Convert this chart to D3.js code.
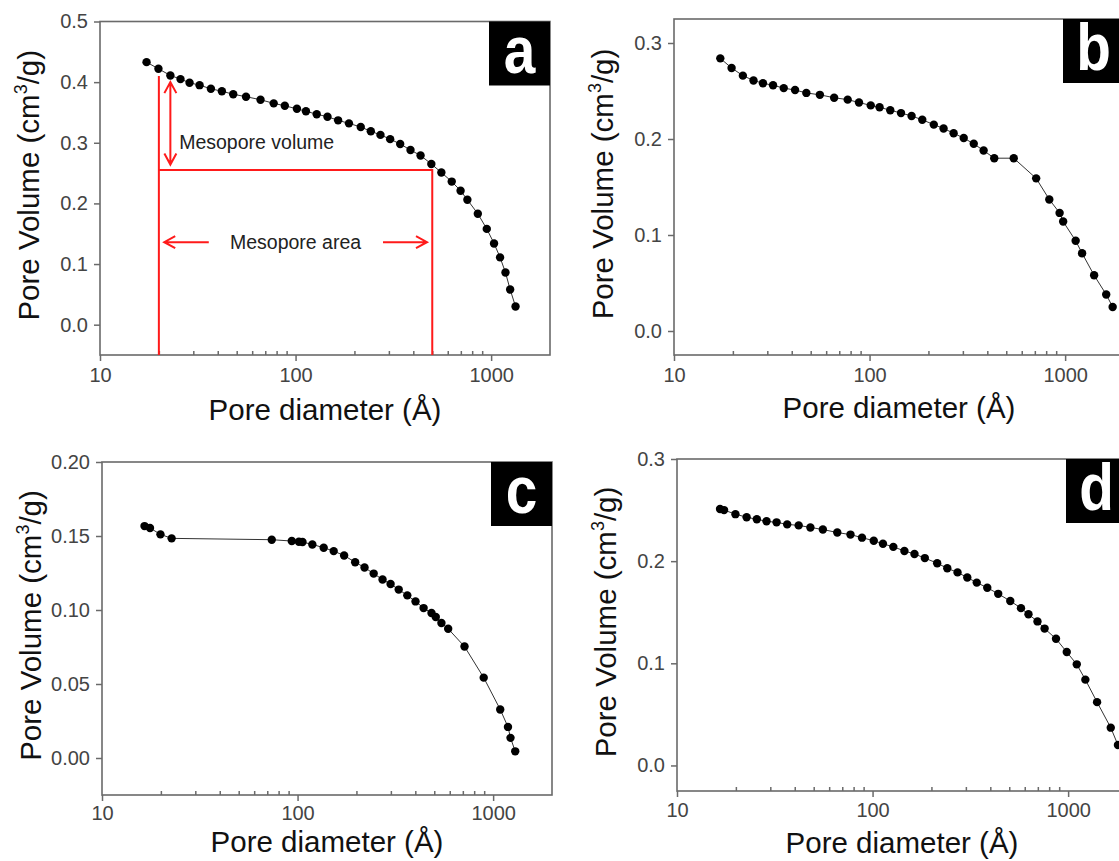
<!DOCTYPE html>
<html>
<head>
<meta charset="utf-8">
<script src="https://cdn.jsdelivr.net/npm/d3@7"></script>
<style>
  body { margin: 0; background: #fff; }
  svg { display: block; font-family: Arial, "Liberation Sans", sans-serif; }
</style>
</head>
<body>
<svg id="fig" width="1119" height="861"></svg>
<script>
// pore diameter (Å) and cumulative pore volume (cm3/g)
const aDiam = [17.3, 19.9, 22.9, 25.8, 28.7, 32.3, 36.9, 42, 48, 55.8, 66.2, 77.3, 88.1, 101.6, 113, 128.3, 145.6, 165, 187.5, 215.4, 242.5, 271.7, 304.6, 342.8, 387, 435.7, 494.6, 556.5, 628.8, 698, 756, 855, 950, 1035, 1111, 1184, 1251, 1333];
const aVol  = [0.433, 0.422, 0.411, 0.405, 0.399, 0.395, 0.389, 0.385, 0.380, 0.376, 0.371, 0.365, 0.361, 0.356, 0.352, 0.347, 0.343, 0.337, 0.332, 0.326, 0.319, 0.313, 0.306, 0.298, 0.288, 0.279, 0.265, 0.251, 0.236, 0.221, 0.206, 0.183, 0.158, 0.134, 0.111, 0.086, 0.058, 0.030];

const bDiam = [17.25, 19.7, 22.5, 25.5, 28.5, 32.1, 36.4, 41.6, 47.5, 55.7, 65.9, 77.3, 88.3, 101.4, 112.5, 127.6, 144.8, 164, 186, 213, 239, 269, 303, 341, 383, 434, 546, 711, 830, 937, 977, 1132, 1221, 1407, 1622, 1750];
const bVol  = [0.284, 0.274, 0.266, 0.261, 0.258, 0.256, 0.253, 0.251, 0.248, 0.246, 0.243, 0.241, 0.238, 0.235, 0.233, 0.230, 0.227, 0.224, 0.220, 0.215, 0.211, 0.206, 0.201, 0.195, 0.188, 0.180, 0.180, 0.159, 0.137, 0.123, 0.114, 0.094, 0.081, 0.058, 0.038, 0.025];

const cDiam = [16.5, 17.6, 19.9, 22.7, 73.8, 93.4, 101.6, 106, 119, 136, 153, 173, 197, 220, 245, 272, 299, 329, 364, 401, 441, 484, 509, 544, 589, 714, 895, 1087, 1191, 1227, 1297];
const cVol  = [0.1567, 0.1554, 0.1511, 0.1484, 0.1475, 0.1466, 0.1461, 0.1459, 0.1443, 0.1421, 0.1398, 0.1368, 0.1323, 0.1287, 0.1246, 0.1206, 0.1176, 0.1138, 0.1099, 0.1058, 0.1013, 0.0980, 0.0953, 0.0912, 0.0873, 0.0753, 0.0543, 0.0328, 0.0210, 0.0136, 0.0045];

const dDiam = [16.6, 17.4, 19.9, 22.7, 25.6, 28.7, 32.3, 36.6, 41.9, 48.1, 55.7, 66, 77.1, 88.3, 101.4, 113, 127.7, 145.5, 163.8, 185, 214, 241, 272, 305, 341, 386, 439, 506, 574, 627, 697, 758, 867, 984, 1107, 1225, 1406, 1652, 1798];
const dVol  = [0.251, 0.250, 0.246, 0.243, 0.241, 0.239, 0.238, 0.236, 0.235, 0.233, 0.231, 0.228, 0.226, 0.223, 0.220, 0.217, 0.214, 0.210, 0.207, 0.203, 0.198, 0.193, 0.189, 0.184, 0.179, 0.174, 0.168, 0.161, 0.154, 0.148, 0.141, 0.134, 0.124, 0.111, 0.099, 0.084, 0.062, 0.037, 0.020];

// axis ticks
const xMajor = [10, 100, 1000];
const xMinor = [20, 30, 40, 50, 60, 70, 80, 90, 200, 300, 400, 500, 600, 700, 800, 900];
const aTicks = [0.0, 0.1, 0.2, 0.3, 0.4, 0.5];
const bTicks = [0.0, 0.1, 0.2, 0.3];
const cTicks = [0.00, 0.05, 0.10, 0.15, 0.20];
const dTicks = [0.0, 0.1, 0.2, 0.3];

// mesopore markers in panel a
const mesoBounds = [20, 500];     // Å
const mesoLevel = 0.255;          // cm3/g
const mesoTop = 0.41;

const svg = d3.select("#fig");

const panels = [
  { label: "a", diam: aDiam, vol: aVol, ticks: aTicks, fmt: ".1f", yDomain: [-0.05, 0.5],
    left: 100, top: 21.5, width: 450, height: 333.5, xTitleY: 420, pad: 7 },
  { label: "b", diam: bDiam, vol: bVol, ticks: bTicks, fmt: ".1f", yDomain: [-0.025, 0.325],
    left: 674, top: 19, width: 450, height: 336, xTitleY: 418, pad: 7 },
  { label: "c", diam: cDiam, vol: cVol, ticks: cTicks, fmt: ".2f", yDomain: [-0.025, 0.2],
    left: 102, top: 462, width: 450, height: 333, xTitleY: 852, pad: 5 },
  { label: "d", diam: dDiam, vol: dVol, ticks: dTicks, fmt: ".1f", yDomain: [-0.025, 0.3],
    left: 677, top: 459, width: 450, height: 332, xTitleY: 853, pad: 6 }
];

panels.forEach(p => {
  const x = d3.scaleLog().domain([10, 2000]).range([p.left, p.left + p.width]);
  const y = d3.scaleLinear().domain(p.yDomain).range([p.top + p.height, p.top]);
  const g = svg.append("g");
  const bottom = p.top + p.height;

  // frame
  g.append("rect")
    .attr("x", p.left).attr("y", p.top)
    .attr("width", p.width).attr("height", p.height)
    .attr("fill", "none").attr("stroke", "#6a6a6a").attr("stroke-width", 1.6);

  // x axis: major ticks outward, minor ticks inward
  const xAx = g.append("g").attr("transform", `translate(0,${bottom})`)
    .call(d3.axisBottom(x).tickValues(xMajor).tickFormat(d3.format("d")).tickSize(6).tickPadding(p.pad));
  const xMin = g.append("g").attr("transform", `translate(0,${bottom})`)
    .call(d3.axisBottom(x).tickValues(xMinor).tickFormat("").tickSize(-4));

  // y axis
  const yAx = g.append("g").attr("transform", `translate(${p.left},0)`)
    .call(d3.axisLeft(y).tickValues(p.ticks).tickFormat(d3.format(p.fmt)).tickSize(6).tickPadding(6));

  [xAx, xMin, yAx].forEach(a => {
    a.select(".domain").remove();
    a.selectAll(".tick line").attr("stroke", "#6a6a6a").attr("stroke-width", 1.5);
    a.selectAll(".tick text").attr("fill", "#444").style("font-size", "20px")
      .style("font-family", "Arial, 'Liberation Sans', sans-serif");
  });

  // series
  const pts = p.diam.map((d, i) => [d, p.vol[i]]);
  g.append("path").datum(pts)
    .attr("fill", "none").attr("stroke", "#333").attr("stroke-width", 1)
    .attr("d", d3.line().x(d => x(d[0])).y(d => y(d[1])));
  g.selectAll("circle").data(pts).enter().append("circle")
    .attr("cx", d => x(d[0])).attr("cy", d => y(d[1]))
    .attr("r", 4.2).attr("fill", "#000");

  // axis titles
  g.append("text")
    .attr("x", p.left + p.width / 2).attr("y", p.xTitleY)
    .attr("text-anchor", "middle").attr("fill", "#111").style("font-size", "29.5px")
    .text("Pore diameter (Å)");

  const yt = g.append("text")
    .attr("transform", `translate(${p.left - 61},${p.top + p.height / 2 - 3}) rotate(-90)`)
    .attr("text-anchor", "middle").attr("fill", "#111").style("font-size", "29.5px");
  yt.append("tspan").text("Pore Volume (cm");
  yt.append("tspan").attr("dy", -12).style("font-size", "18px").text("3");
  yt.append("tspan").attr("dy", 12).text("/g)");

  // panel letter
  const bw = 61, bh = 64;
  g.append("rect")
    .attr("x", p.left + p.width - bw).attr("y", p.top)
    .attr("width", bw).attr("height", bh).attr("fill", "#000");
  g.append("text")
    .attr("transform", `translate(${p.left + p.width - bw / 2},${p.top + 51}) scale(0.86,1)`)
    .attr("text-anchor", "middle").attr("fill", "#fff")
    .style("font-size", "66px").style("font-weight", "bold")
    .text(p.label);

  if (p.label === "a") drawMesopore(g, x, y);
});

function drawMesopore(g, x, y) {
  const red = "#ff1a1a";
  const y0 = y.range()[0];
  g.append("path")
    .attr("fill", "none").attr("stroke", red).attr("stroke-width", 2)
    .attr("d", `M${x(mesoBounds[0])},${y(mesoTop)}V${y0}`
      + `M${x(mesoBounds[0])},${y(mesoLevel)}H${x(mesoBounds[1])}V${y0}`);

  const head = (px, py, dx, dy) => {
    // open chevron pointing along (dx,dy)
    const L = 11, W = 6;
    const bx = px - dx * L, by = py - dy * L;
    return `M${bx - dy * W},${by + dx * W}L${px},${py}L${bx + dy * W},${by - dx * W}`;
  };

  // mesopore volume arrow
  const vx = x(22.9), vTop = y(0.40), vBot = y(0.264);
  g.append("path").attr("fill", "none").attr("stroke", red).attr("stroke-width", 2)
    .attr("d", `M${vx},${vTop}V${vBot}` + head(vx, vTop, 0, -1) + head(vx, vBot, 0, 1));
  g.append("text").attr("x", x(25.4)).attr("y", y(0.301) + 7)
    .attr("fill", "#222").style("font-size", "19.5px").text("Mesopore volume");

  // mesopore area arrows
  const ay = y(0.136);
  const l1 = x(21.3), l2 = x(36), r1 = x(280), r2 = x(470);
  g.append("path").attr("fill", "none").attr("stroke", red).attr("stroke-width", 2)
    .attr("d", `M${l1},${ay}H${l2}` + head(l1, ay, -1, 0) + `M${r1},${ay}H${r2}` + head(r2, ay, 1, 0));
  g.append("text").attr("x", x(100)).attr("y", ay + 7)
    .attr("text-anchor", "middle").attr("fill", "#222").style("font-size", "19.5px").text("Mesopore area");
}
</script>
</body>
</html>
